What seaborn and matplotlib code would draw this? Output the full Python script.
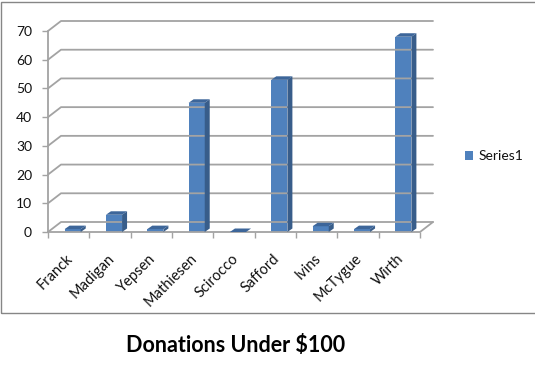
import matplotlib
matplotlib.use("Agg")
import matplotlib.pyplot as plt
import matplotlib.transforms as mtransforms
from matplotlib.patches import Polygon, Rectangle, Patch
from matplotlib.lines import Line2D
import seaborn as sns
import pandas as pd

# ---- data ----
names = ["Franck", "Madigan", "Yepsen", "Mathiesen", "Scirocco",
         "Safford", "Ivins", "McTygue", "Wirth"]
donations = [1, 6, 1, 45, 0, 53, 2, 1, 68]
y_ticks = [0, 10, 20, 30, 40, 50, 60, 70]
series_label = "Series1"
title = "Donations Under $100"

# ---- style ----
FRONT = "#4F81BD"
SIDE = "#385D8A"
TOP = "#3D669A"
GRID = "#A3A3A3"
TXT = "#111111"

sns.set_theme(style="white")
plt.rcParams['font.family'] = ['Lato', 'DejaVu Sans']

W, H = 535, 373
fig = plt.figure(figsize=(W / 100, H / 100), dpi=100)
fig.patch.set_facecolor("white")


def frac(x0, y0, x1, y1):
    return [x0 / W, 1 - y1 / H, (x1 - x0) / W, (y1 - y0) / H]


ax = fig.add_axes(frac(48, 31, 420, 232))
df = pd.DataFrame({"name": names, "value": donations})
sns.barplot(data=df, x="name", y="value", color=FRONT, saturation=1,
            width=0.39, ax=ax, zorder=3, errorbar=None, linewidth=0)
ax.set_xlim(-0.5, len(names) - 0.5)
ax.set_ylim(0, 70)
ax.set_facecolor("none")
for s in ax.spines.values():
    s.set_visible(False)
ax.grid(False)
ax.set_xlabel("")
ax.set_ylabel("")

# ticks
ax.set_yticks(y_ticks)
ax.set_yticklabels([str(v) for v in y_ticks])
ax.tick_params(axis="y", which="major", left=True, length=4.3, width=1,
               color=GRID, pad=7.2, labelsize=10, labelcolor=TXT)
ax.set_xticks(range(len(names)))
ax.set_xticklabels(names, rotation=45, ha="right", va="top",
                   rotation_mode="anchor")
ax.set_xticks([i - 0.5 for i in range(len(names) + 1)], minor=True)
ax.tick_params(axis="x", which="major", bottom=True, length=0, pad=14,
               labelsize=10.5, labelcolor=TXT)
ax.tick_params(axis="x", which="minor", bottom=True, length=4, width=1,
               color=GRID)
lab_shift = mtransforms.ScaledTranslation(-3 / 100, 0, fig.dpi_scale_trans)
for lab in ax.get_xticklabels():
    lab.set_transform(lab.get_transform() + lab_shift)

ident = mtransforms.IdentityTransform()
DX, DY = 13, 10      # depth offset of back wall (pixels)
BX, BY = 5, 3.5      # bar depth (pixels)
SHIFT = 4            # bar shift to the right (pixels)

# shift bars
shift_tr = mtransforms.ScaledTranslation(SHIFT / 100, 0, fig.dpi_scale_trans)
for p in ax.patches:
    p.set_transform(ax.transData + shift_tr)

# gridlines / walls
x_left, x_right = -0.5, len(names) - 0.5
for yv in y_ticks:
    fx, fy = ax.transData.transform((x_left, yv))
    rx, ry = ax.transData.transform((x_right, yv))
    fig.add_artist(Line2D([fx, fx + DX, rx + DX], [fy, fy + DY, ry + DY],
                          transform=ident, color=GRID, lw=1.3, zorder=1))
# front vertical axis
fx0, fy0 = ax.transData.transform((x_left, 0))
fx1, fy1 = ax.transData.transform((x_left, 70))
fig.add_artist(Line2D([fx0, fx1], [fy0, fy1], transform=ident,
                      color=GRID, lw=1.3, zorder=1))
# floor front edge and right diagonal
rx0, ry0 = ax.transData.transform((x_right, 0))
fig.add_artist(Line2D([fx0, rx0, rx0 + DX], [fy0, ry0, ry0 + DY],
                      transform=ident, color=GRID, lw=1.3, zorder=1))

# 3D faces of bars
for p in list(ax.patches):
    bb = p.get_window_extent()
    x0, y0, x1, y1 = bb.x0, bb.y0, bb.x1, bb.y1
    side = Polygon([(x1, y0), (x1 + BX, y0 + BY), (x1 + BX, y1 + BY), (x1, y1)],
                   closed=True, transform=ident, facecolor=SIDE,
                   edgecolor="none", zorder=4)
    top = Polygon([(x0, y1), (x1, y1), (x1 + BX, y1 + BY), (x0 + BX, y1 + BY)],
                  closed=True, transform=ident, facecolor=TOP,
                  edgecolor="none", zorder=4)
    fig.add_artist(side)
    fig.add_artist(top)

# legend
handle = Patch(facecolor=FRONT, edgecolor="none", label=series_label)
fig.legend(handles=[handle], loc="center left",
           bbox_to_anchor=(459 / W, 1 - 156 / H), frameon=False,
           fontsize=10, handlelength=0.6, handleheight=0.6,
           handletextpad=0.4, borderaxespad=0, labelcolor=TXT)

# title
fig.text(236 / W, 1 - 346 / H, title, ha="center", va="center",
         fontsize=15.5, fontweight="bold", color="black")

# outer border
fig.add_artist(Rectangle((1.5 / W, 1 - 313 / H), (W + 10) / W, 311.5 / H,
                         transform=fig.transFigure, fill=False,
                         edgecolor="#868686", lw=1, zorder=0))

fig.savefig("out.png", dpi=100)
